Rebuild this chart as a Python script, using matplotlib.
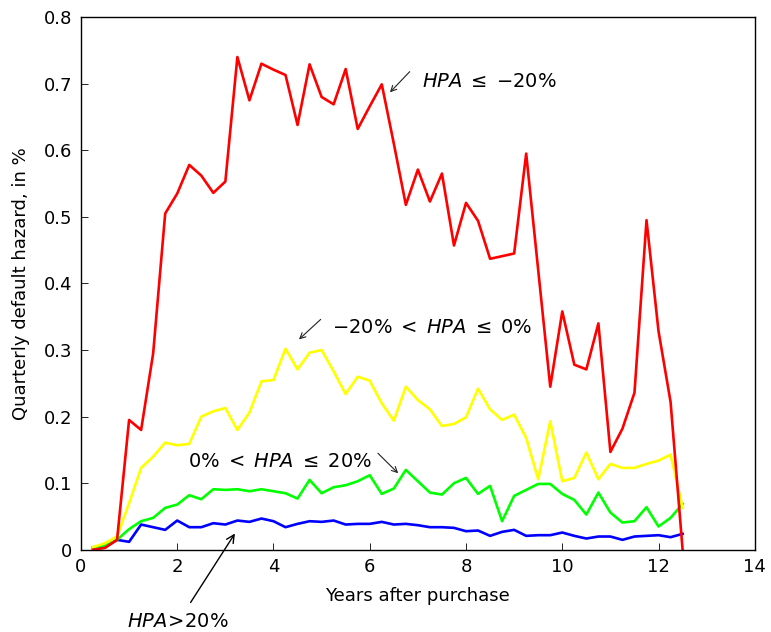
import numpy as np
import matplotlib
matplotlib.use('Agg')
import matplotlib.pyplot as plt

plt.rcParams['font.family'] = ['DejaVu Sans']
plt.rcParams['mathtext.fontset'] = 'dejavusans'

# quarters after purchase (years)
years = np.arange(1, 51) / 4

# quarterly default hazard (%) by house price appreciation bucket
hpa_le_m20 = [0.000, 0.003, 0.015, 0.195, 0.180, 0.295, 0.505, 0.535, 0.578, 0.562,
              0.536, 0.553, 0.740, 0.675, 0.730, 0.721, 0.713, 0.638, 0.729, 0.680,
              0.669, 0.722, 0.632, 0.666, 0.699, 0.610, 0.518, 0.571, 0.523, 0.565,
              0.457, 0.521, 0.494, 0.437, 0.441, 0.445, 0.595, 0.420, 0.245, 0.358,
              0.278, 0.271, 0.340, 0.147, 0.182, 0.236, 0.495, 0.328, 0.222, 0.000]
hpa_m20_0 = [0.004, 0.010, 0.020, 0.070, 0.123, 0.140, 0.161, 0.157, 0.159, 0.200,
             0.208, 0.213, 0.180, 0.206, 0.253, 0.255, 0.302, 0.271, 0.296, 0.300,
             0.268, 0.234, 0.260, 0.254, 0.220, 0.194, 0.245, 0.225, 0.211, 0.186,
             0.189, 0.199, 0.242, 0.211, 0.195, 0.203, 0.168, 0.106, 0.193, 0.103,
             0.108, 0.146, 0.106, 0.129, 0.123, 0.123, 0.129, 0.134, 0.143, 0.063]
hpa_0_20 = [0.004, 0.006, 0.015, 0.031, 0.043, 0.048, 0.063, 0.068, 0.082, 0.076,
            0.091, 0.090, 0.091, 0.088, 0.091, 0.088, 0.085, 0.077, 0.105, 0.085,
            0.094, 0.097, 0.103, 0.112, 0.084, 0.092, 0.120, 0.103, 0.086, 0.083,
            0.100, 0.108, 0.084, 0.096, 0.043, 0.081, 0.090, 0.099, 0.099, 0.084,
            0.075, 0.053, 0.086, 0.056, 0.041, 0.043, 0.064, 0.035, 0.048, 0.069]
hpa_gt20 = [0.003, 0.004, 0.015, 0.012, 0.038, 0.034, 0.030, 0.044, 0.034, 0.034,
            0.040, 0.038, 0.044, 0.042, 0.047, 0.043, 0.034, 0.039, 0.043, 0.042,
            0.044, 0.038, 0.039, 0.039, 0.042, 0.038, 0.039, 0.037, 0.034, 0.034,
            0.033, 0.028, 0.029, 0.021, 0.027, 0.030, 0.021, 0.022, 0.022, 0.026,
            0.021, 0.017, 0.020, 0.020, 0.015, 0.020, 0.021, 0.022, 0.019, 0.024]

fig = plt.figure(figsize=(7.71, 6.32), dpi=100)
ax = fig.add_axes([0.105, 0.130, 0.874, 0.843])

lw = 1.9
ax.plot(years, hpa_gt20, color='#0000ff', lw=lw)
ax.plot(years, hpa_0_20, color='#00ff00', lw=lw)
ax.plot(years, hpa_m20_0, color='#ffff00', lw=lw)
ax.plot(years, hpa_le_m20, color='#ff0000', lw=lw)

ax.set_xlim(0, 14)
ax.set_ylim(0, 0.8)
ax.set_xticks(range(0, 15, 2))
ax.set_yticks(np.arange(0, 0.81, 0.1))
ax.set_yticklabels(['0', '0.1', '0.2', '0.3', '0.4', '0.5', '0.6', '0.7', '0.8'])
ax.tick_params(direction='in', labelsize=13, length=5, width=0.6, pad=6)
for s in ax.spines.values():
    s.set_linewidth(1.0)

ax.set_xlabel('Years after purchase', fontsize=13, labelpad=8)
ax.set_ylabel('Quarterly default hazard, in %', fontsize=13, labelpad=10)

fs = 14
thin = dict(arrowstyle='->', color='#222222', lw=0.8, shrinkA=0, shrinkB=0)

ax.text(7.08, 0.703, r'$\mathit{HPA}\;\leq\;{-}20\%$', fontsize=fs, va='center', ha='left')
ax.annotate('', xy=(6.42, 0.687), xytext=(6.83, 0.718), arrowprops=thin)

ax.text(5.21, 0.334, r'${-}20\%\;<\;\mathit{HPA}\;\leq\;0\%$', fontsize=fs, va='center', ha='left')
ax.annotate('', xy=(4.53, 0.316), xytext=(4.98, 0.346), arrowprops=thin)

ax.text(2.23, 0.132, r'$0\%\;<\;\mathit{HPA}\;\leq\;20\%$', fontsize=fs, va='center', ha='left')
ax.annotate('', xy=(6.59, 0.115), xytext=(6.17, 0.145), arrowprops=thin)

ax.annotate(r'$\mathit{HPA}\!>\!20\%$', xy=(3.23, 0.028), xytext=(2.02, -0.108),
            fontsize=fs, ha='center', va='center', annotation_clip=False,
            arrowprops=dict(arrowstyle='->', color='black', lw=1.0, shrinkA=6))

fig.savefig('out.png', dpi=100)
